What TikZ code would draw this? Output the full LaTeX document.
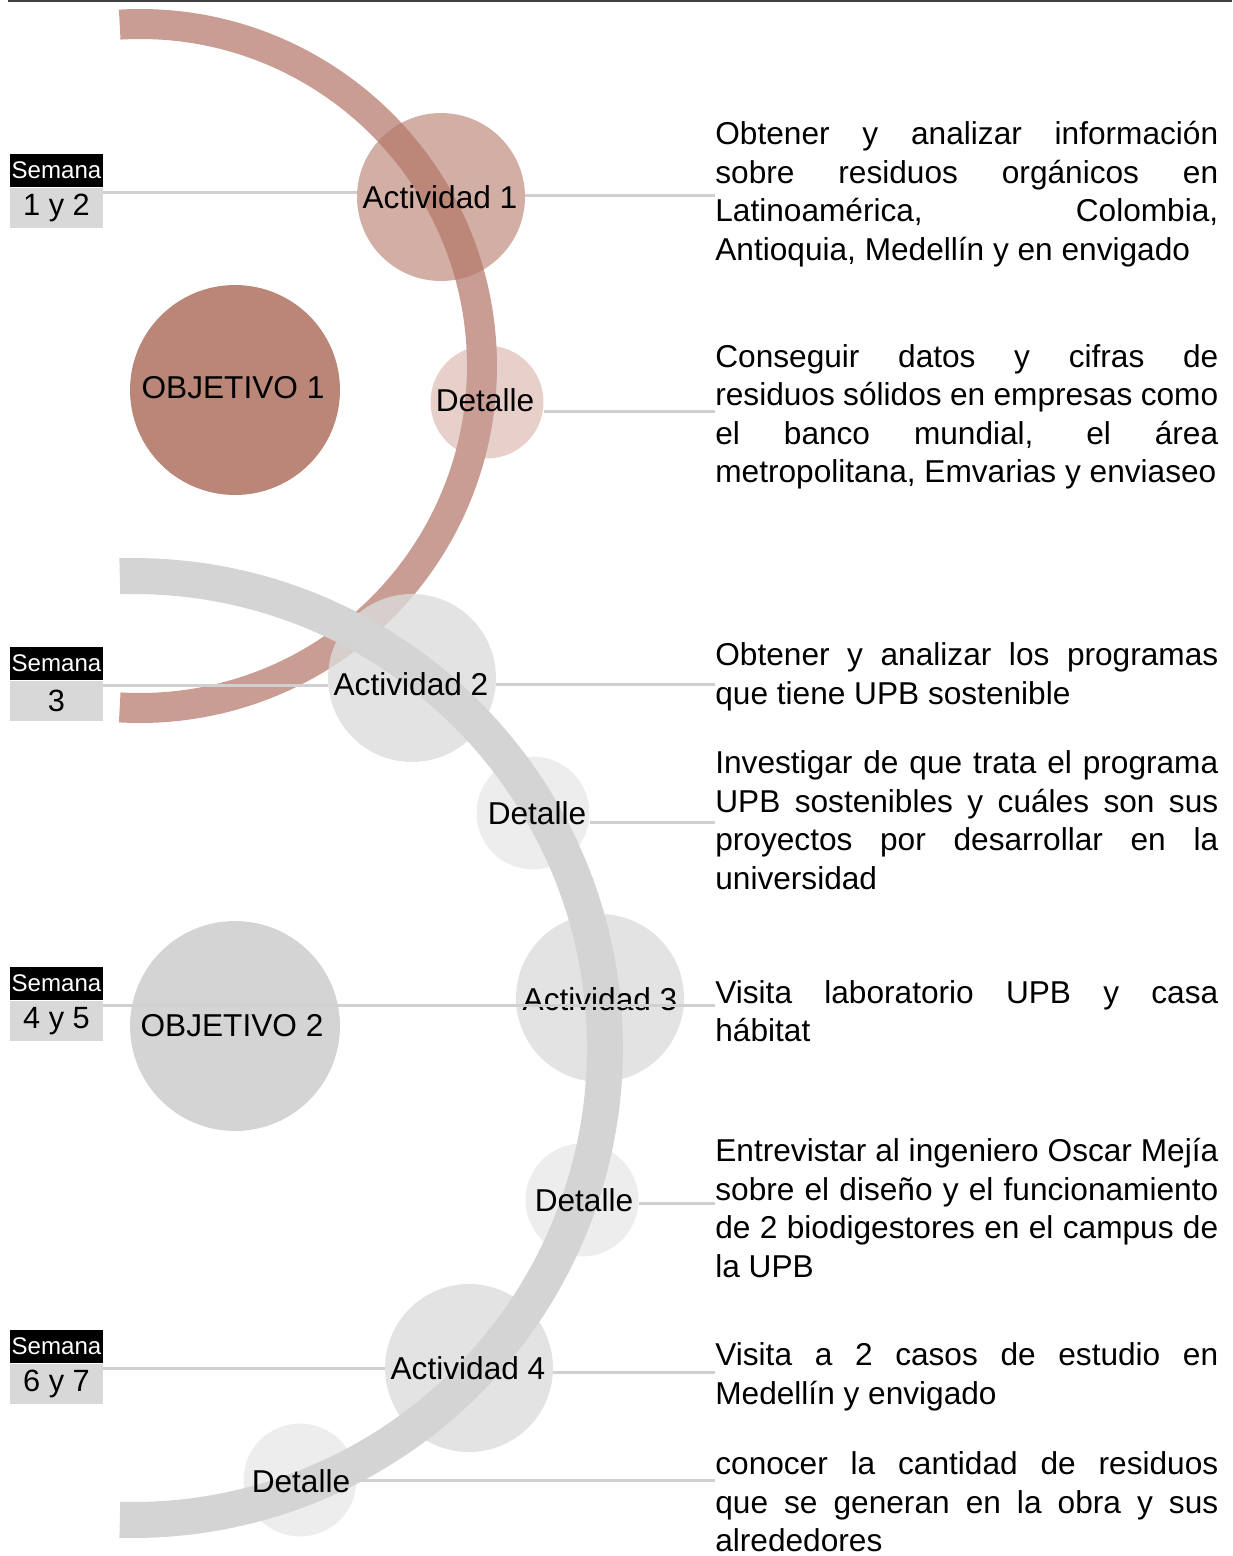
\documentclass[tikz,border=0pt]{standalone}
\usepackage{fontspec}
\setmainfont{Liberation Sans}
\usetikzlibrary{positioning}

\definecolor{rustband}{RGB}{201,157,147}
\definecolor{rustdark}{RGB}{186,134,119}
\definecolor{rustmid}{RGB}{180,120,105}
\definecolor{rustlight}{RGB}{231,207,202}
\definecolor{greyband}{RGB}{212,212,212}
\definecolor{greymid}{RGB}{220,220,220}
\definecolor{greylight}{RGB}{237,237,237}
\definecolor{linegrey}{RGB}{208,208,208}
\definecolor{tabgrey}{RGB}{216,216,216}

\newcommand{\descfont}{\fontsize{18}{21.9}\selectfont\hyphenpenalty=10000\relax\exhyphenpenalty=10000\relax}

\tikzset{
  bigcirc/.style={circle, inner sep=0pt, minimum size=4.2cm},
  actcirc/.style={circle, inner sep=0pt, minimum size=3.36cm},
  detcirc/.style={circle, inner sep=0pt, minimum size=2.26cm},
  lbl/.style={inner sep=0pt, font=\fontsize{18}{21.9}\selectfont},
  desc/.style={anchor=west, inner sep=0pt, text width=10.06cm, align=justify, font=\descfont},
  conn/.style={draw=linegrey, line width=0.06cm},
  weektop/.style={fill=black, text=white, inner sep=0pt, minimum width=1.86cm,
    minimum height=0.66cm, font=\fontsize{13.7}{15}\selectfont},
  weekbox/.style={fill=tabgrey, inner sep=0pt, minimum width=1.86cm,
    minimum height=0.8cm, font=\fontsize{17.5}{20}\selectfont},
}

\begin{document}
\begin{tikzpicture}[x=0.02cm, y=-0.02cm]
    \useasboundingbox (0,0) rectangle (1232,1556);

    % Top rule
    \draw[black!75, line width=0.04cm] (8,1) -- (1232,1);

    % Objetivo 1 (brown arc)
    \node[detcirc, fill=rustlight] (det1) at (487,402) {};
    \draw[rustband, line width=0.6cm] (140,366) ++(-93.4:342) arc[start angle=-93.4, end angle=93.4, radius=342];
    \node[bigcirc, fill=rustdark] (obj1) at (235,390) {};
    \node[actcirc, fill=rustmid, fill opacity=0.6] (act1) at (441,197) {};

    % Objetivo 2 (grey arc)
    \node[actcirc, fill=greymid, fill opacity=0.8] (act2) at (412,678) {};
    \node[detcirc, fill=greylight] (det2) at (533,813) {};
    \node[actcirc, fill=greymid, fill opacity=0.8] (act3) at (600,998) {};
    \node[detcirc, fill=greylight] (det3) at (582,1200) {};
    \node[actcirc, fill=greymid, fill opacity=0.8] (act4) at (469,1368) {};
    \node[detcirc, fill=greylight] (det4) at (300,1480) {};
    \node[bigcirc, fill=greyband] (obj2) at (235,1026) {};
    \draw[greyband, line width=0.72cm] (133,1048) ++(-91.6:472) arc[start angle=-91.6, end angle=91.6, radius=472];

    % Labels
    \node[lbl] (obj1t) at (233,388) {OBJETIVO 1};
    \node[lbl] (act1t) at (440,197) {Actividad 1};
    \node[lbl] (det1t) at (485,400) {Detalle};
    \node[lbl] (act2t) at (411,684) {Actividad 2};
    \node[lbl] (det2t) at (537,813) {Detalle};
    \node[lbl] (act3t) at (600,999) {Actividad 3};
    \node[lbl] (obj2t) at (232,1026) {OBJETIVO 2};
    \node[lbl] (det3t) at (584,1200) {Detalle};
    \node[lbl] (act4t) at (468,1368) {Actividad 4};
    \node[lbl] (det4t) at (301,1481) {Detalle};

    % Semanas
    \node[weektop] (wk1h) at (56.5,170.5) {Semana};
    \node[weekbox, below=0pt of wk1h] (wk1) {1 y 2};
    \node[weektop] (wk2h) at (56.5,663.5) {Semana};
    \node[weekbox, below=0pt of wk2h] (wk2) {3};
    \node[weektop] (wk3h) at (56.5,983.5) {Semana};
    \node[weekbox, below=0pt of wk3h] (wk3) {4 y 5};
    \node[weektop] (wk4h) at (56.5,1346.5) {Semana};
    \node[weekbox, below=0pt of wk4h] (wk4) {6 y 7};

    % Descriptions
    \node[desc] (desc1) at (715,194) {Obtener y analizar información\linebreak sobre residuos orgánicos en\linebreak Latinoamérica, Colombia,\linebreak Antioquia, Medellín y en envigado};
    \node[desc] (desc2) at (715,417) {Conseguir datos y cifras de\linebreak residuos sólidos en empresas como\linebreak el banco mundial, el área\linebreak metropolitana, Emvarias y enviaseo};
    \node[desc] (desc3) at (715,677) {Obtener y analizar los programas\linebreak que tiene UPB sostenible};
    \node[desc] (desc4) at (715,820) {Investigar de que trata el programa\linebreak UPB sostenibles y cuáles son sus\linebreak proyectos por desarrollar en la\linebreak universidad};
    \node[desc] (desc5) at (715,1011) {Visita laboratorio UPB y casa\linebreak hábitat};
    \node[desc] (desc6) at (715,1208) {Entrevistar al ingeniero Oscar Mejía\linebreak sobre el diseño y el funcionamiento\linebreak de 2 biodigestores en el campus de\linebreak la UPB};
    \node[desc] (desc7) at (715,1377) {Visita a 2 casos de estudio en\linebreak Medellín y envigado};
    \node[desc] (desc8) at (715,1502) {conocer la cantidad de residuos\linebreak que se generan en la obra y sus\linebreak alrededores};

    % Connectors, left
    \coordinate (l1) at ([yshift=-0.1cm]wk1.north east);
    \coordinate (l2) at ([yshift=-0.11cm]wk2.north east);
    \coordinate (l3) at ([yshift=-0.1cm]wk3.north east);
    \coordinate (l4) at ([yshift=-0.11cm]wk4.north east);
    \draw[conn] (l1) -- (l1 -| act1.west);
    \draw[conn] (l2) -- (l2 -| act2.west);
    \draw[conn] (l3) -- (l3 -| desc5.west);
    \draw[conn] (l4) -- (l4 -| act4.west);

    % Connectors, right
    \coordinate (r1) at ([yshift=0.04cm]act1.east);
    \coordinate (r2) at ([yshift=-0.18cm]det1.east);
    \coordinate (r3) at ([yshift=-0.12cm]act2.east);
    \coordinate (r4) at ([yshift=-0.18cm]det2.east);
    \coordinate (r6) at ([yshift=-0.06cm]det3.east);
    \coordinate (r7) at ([yshift=-0.08cm]act4.east);
    \coordinate (r8) at (det4.east);
    \draw[conn] (r1) -- (r1 -| desc1.west);
    \draw[conn] (r2) -- (r2 -| desc2.west);
    \draw[conn] (r3) -- (r3 -| desc3.west);
    \draw[conn] (r4) -- (r4 -| desc4.west);
    \draw[conn] (r6) -- (r6 -| desc6.west);
    \draw[conn] (r7) -- (r7 -| desc7.west);
    \draw[conn] (r8) -- (r8 -| desc8.west);

\end{tikzpicture}
\end{document}
